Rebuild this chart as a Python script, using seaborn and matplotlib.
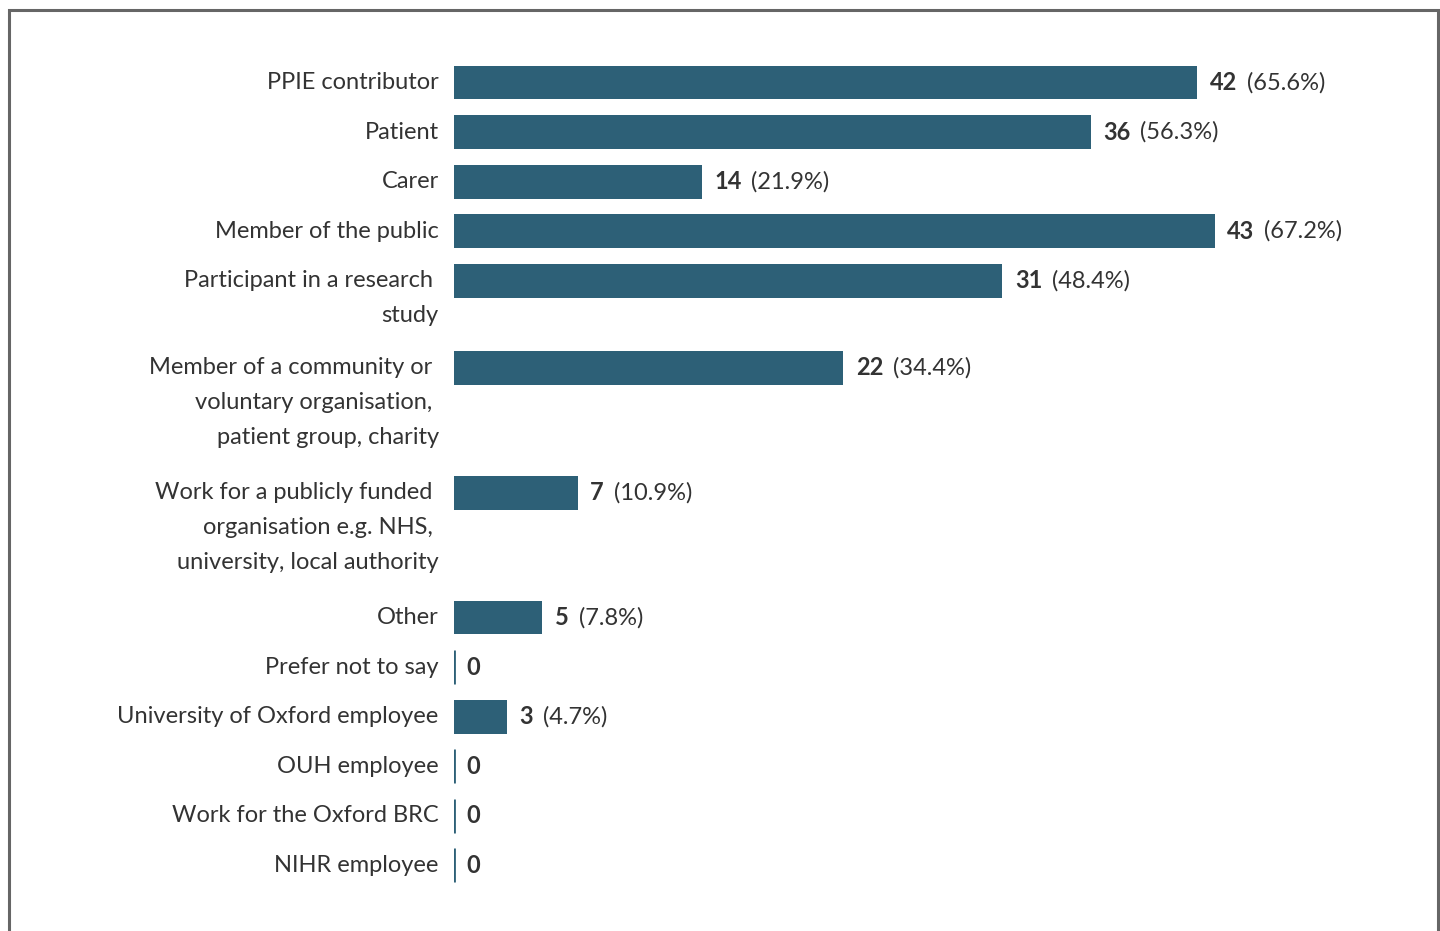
import matplotlib.pyplot as plt
import seaborn as sns
import pandas as pd
from matplotlib.patches import Rectangle

categories = [
    "PPIE contributor",
    "Patient",
    "Carer",
    "Member of the public",
    "Participant in a research \nstudy",
    "Member of a community or \nvoluntary organisation, \npatient group, charity",
    "Work for a publicly funded \norganisation e.g. NHS, \nuniversity, local authority",
    "Other",
    "Prefer not to say",
    "University of Oxford employee",
    "OUH employee",
    "Work for the Oxford BRC",
    "NIHR employee",
]
counts = [42, 36, 14, 43, 31, 22, 7, 5, 0, 3, 0, 0, 0]
percents = [65.6, 56.3, 21.9, 67.2, 48.4, 34.4, 10.9, 7.8, 0, 4.7, 0, 0, 0]

bar_color = "#2d6077"
text_color = "#333333"

sns.set_style("white")
plt.rcParams["font.family"] = ["Lato", "DejaVu Sans"]

# rows with wrapped labels take more vertical room
pos = []
y = 0.0
for lab in categories:
    pos.append(y)
    y += 1 + 0.76 * lab.count("\n")

df = pd.DataFrame({"pos": pos, "count": counts})

W, H = 1440, 931
fig = plt.figure(figsize=(W / 100, H / 100), dpi=100)
ax = fig.add_axes([454 / W, 31 / H, (1400 - 454) / W, (900 - 40) / H])

sns.barplot(data=df, x="count", y="pos", orient="h", native_scale=True,
            color=bar_color, saturation=1, width=0.68, linewidth=0, ax=ax)

# thin marker for zero counts
zero = df[df["count"] == 0]
ax.vlines([0] * len(zero), zero["pos"] - 0.34, zero["pos"] + 0.34,
          color=bar_color, lw=2)

ax.set_xlim(0, (1400 - 454) / 17.69)
ax.set_ylim(pos[-1] + 0.70, -0.86)
ax.set_xticks([])
ax.set_yticks([])
ax.set_xlabel("")
ax.set_ylabel("")
sns.despine(ax=ax, left=True, bottom=True)

for lab, p, c, pc in zip(categories, pos, counts, percents):
    for k, line in enumerate(lab.split("\n")):
        ax.annotate(line, xy=(0, p + k * 0.70), xytext=(-11, 0),
                    textcoords="offset points", ha="right", va="center",
                    fontsize=17, color=text_color)
    num = ax.annotate(str(c), xy=(c, p), xytext=(9, 0),
                      textcoords="offset points", ha="left", va="center",
                      fontsize=17, fontweight="bold", color=text_color)
    if c > 0:
        ax.annotate(f"({pc:.1f}%)", xy=(1, 0.5), xycoords=num, xytext=(7, 0),
                    textcoords="offset points", ha="left", va="center",
                    fontsize=17, color=text_color)

fig.patches.append(Rectangle((8.5 / W, -0.05), 1429 / W, 1 - 10.5 / H + 0.05,
                             transform=fig.transFigure, fill=False,
                             edgecolor="#666666", lw=2.2))

fig.savefig("out.png", dpi=100)
